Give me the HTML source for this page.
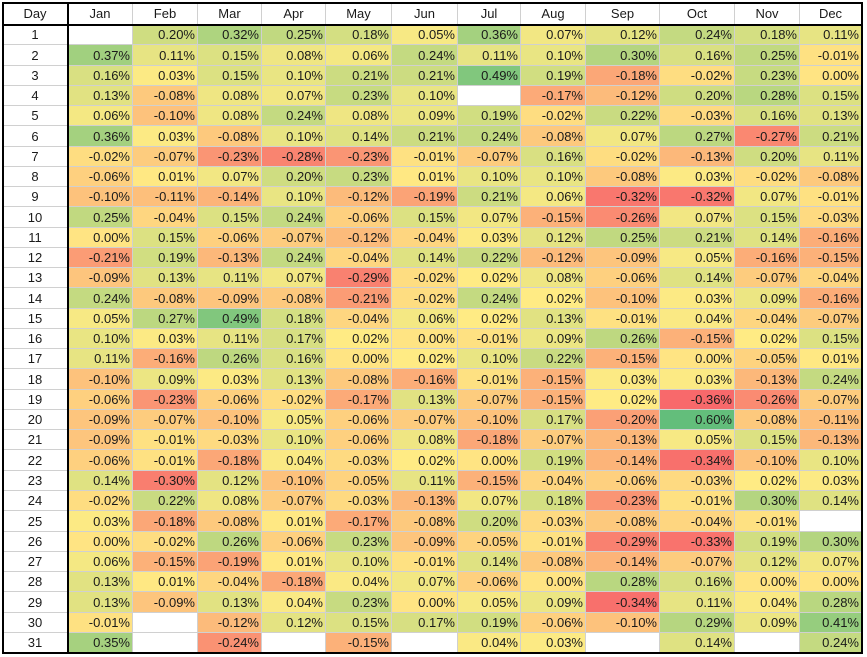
<!DOCTYPE html>
<html><head><meta charset="utf-8">
<style>
html,body{margin:0;padding:0;background:#fff;width:867px;height:657px;overflow:hidden;}
#wrap{position:absolute;left:0;top:0;width:867px;height:657px;font-family:"Liberation Sans",Arial,sans-serif;font-size:13px;color:#1a1a1a;}
.c{position:absolute;box-sizing:border-box;border-right:1px solid #d0d0d0;border-bottom:1px solid #d0d0d0;line-height:19px;white-space:nowrap;overflow:hidden;}
.r{text-align:right;padding-right:2px;}
.ctr{text-align:center;}
.b{position:absolute;background:#000;}
</style></head><body>
<div id="wrap"></div>
<script>
const months=["Jan","Feb","Mar","Apr","May","Jun","Jul","Aug","Sep","Oct","Nov","Dec"];
const days=[1,2,3,4,5,6,7,8,9,10,11,12,13,14,15,16,17,18,19,20,21,22,23,24,25,26,27,28,29,30,31];
const values=[
[null,0.20,0.32,0.25,0.18,0.05,0.36,0.07,0.12,0.24,0.18,0.11],
[0.37,0.11,0.15,0.08,0.06,0.24,0.11,0.10,0.30,0.16,0.25,-0.01],
[0.16,0.03,0.15,0.10,0.21,0.21,0.49,0.19,-0.18,-0.02,0.23,0.00],
[0.13,-0.08,0.08,0.07,0.23,0.10,null,-0.17,-0.12,0.20,0.28,0.15],
[0.06,-0.10,0.08,0.24,0.08,0.09,0.19,-0.02,0.22,-0.03,0.16,0.13],
[0.36,0.03,-0.08,0.10,0.14,0.21,0.24,-0.08,0.07,0.27,-0.27,0.21],
[-0.02,-0.07,-0.23,-0.28,-0.23,-0.01,-0.07,0.16,-0.02,-0.13,0.20,0.11],
[-0.06,0.01,0.07,0.20,0.23,0.01,0.10,0.10,-0.08,0.03,-0.02,-0.08],
[-0.10,-0.11,-0.14,0.10,-0.12,-0.19,0.21,0.06,-0.32,-0.32,0.07,-0.01],
[0.25,-0.04,0.15,0.24,-0.06,0.15,0.07,-0.15,-0.26,0.07,0.15,-0.03],
[0.00,0.15,-0.06,-0.07,-0.12,-0.04,0.03,0.12,0.25,0.21,0.14,-0.16],
[-0.21,0.19,-0.13,0.24,-0.04,0.14,0.22,-0.12,-0.09,0.05,-0.16,-0.15],
[-0.09,0.13,0.11,0.07,-0.29,-0.02,0.02,0.08,-0.06,0.14,-0.07,-0.04],
[0.24,-0.08,-0.09,-0.08,-0.21,-0.02,0.24,0.02,-0.10,0.03,0.09,-0.16],
[0.05,0.27,0.49,0.18,-0.04,0.06,0.02,0.13,-0.01,0.04,-0.04,-0.07],
[0.10,0.03,0.11,0.17,0.02,0.00,-0.01,0.09,0.26,-0.15,0.02,0.15],
[0.11,-0.16,0.26,0.16,0.00,0.02,0.10,0.22,-0.15,0.00,-0.05,0.01],
[-0.10,0.09,0.03,0.13,-0.08,-0.16,-0.01,-0.15,0.03,0.03,-0.13,0.24],
[-0.06,-0.23,-0.06,-0.02,-0.17,0.13,-0.07,-0.15,0.02,-0.36,-0.26,-0.07],
[-0.09,-0.07,-0.10,0.05,-0.06,-0.07,-0.10,0.17,-0.20,0.60,-0.08,-0.11],
[-0.09,-0.01,-0.03,0.10,-0.06,0.08,-0.18,-0.07,-0.13,0.05,0.15,-0.13],
[-0.06,-0.01,-0.18,0.04,-0.03,0.02,0.00,0.19,-0.14,-0.34,-0.10,0.10],
[0.14,-0.30,0.12,-0.10,-0.05,0.11,-0.15,-0.04,-0.06,-0.03,0.02,0.03],
[-0.02,0.22,0.08,-0.07,-0.03,-0.13,0.07,0.18,-0.23,-0.01,0.30,0.14],
[0.03,-0.18,-0.08,0.01,-0.17,-0.08,0.20,-0.03,-0.08,-0.04,-0.01,null],
[0.00,-0.02,0.26,-0.06,0.23,-0.09,-0.05,-0.01,-0.29,-0.33,0.19,0.30],
[0.06,-0.15,-0.19,0.01,0.10,-0.01,0.14,-0.08,-0.14,-0.07,0.12,0.07],
[0.13,0.01,-0.04,-0.18,0.04,0.07,-0.06,0.00,0.28,0.16,0.00,0.00],
[0.13,-0.09,0.13,0.04,0.23,0.00,0.05,0.09,-0.34,0.11,0.04,0.28],
[-0.01,null,-0.12,0.12,0.15,0.17,0.19,-0.06,-0.10,0.29,0.09,0.41],
[0.35,null,-0.24,null,-0.15,null,0.04,0.03,null,0.14,null,0.24]
];
const colEdges=[3,68,133,198,262,326,392,458,521,586,660,735,800,862];
const top0=3, headH=22, rowH=20.26;
const wrap=document.getElementById('wrap');
const flat=values.flat().filter(v=>v!==null);
const vmin=Math.min(...flat), vmax=Math.max(...flat);
const sorted=flat.slice().sort((a,b)=>a-b);
const vmid=sorted[Math.floor(sorted.length/2)];
function lerp(a,b,t){return a.map((x,i)=>Math.round(x+(b[i]-x)*t));}
function color(v){
  const R=[248,105,107],Y=[255,235,132],G=[99,190,123];
  let c;
  if(v<=vmid) c=lerp(R,Y,(v-vmin)/(vmid-vmin||1));
  else c=lerp(Y,G,(v-vmid)/(vmax-vmid||1));
  return `rgb(${c[0]},${c[1]},${c[2]})`;
}
function cell(x0,x1,y0,y1,txt,cls,bg){
  const d=document.createElement('div');
  d.className='c '+cls;
  d.style.left=x0+'px';d.style.top=y0+'px';
  d.style.width=(x1-x0)+'px';d.style.height=(y1-y0)+'px';
  d.style.lineHeight=(y1-y0)+'px';
  if(bg)d.style.background=bg;
  d.textContent=txt;
  wrap.appendChild(d);
  return d;
}
// header
let h=cell(colEdges[0],colEdges[1],top0,top0+headH,'Day','ctr');


months.forEach((m,j)=>{
  const d=cell(colEdges[j+1],colEdges[j+2],top0,top0+headH,m,'ctr');
  
  
});
days.forEach((dy,i)=>{
  const y0=Math.round(top0+headH+i*rowH), y1=Math.round(top0+headH+(i+1)*rowH);
  const dc=cell(colEdges[0],colEdges[1],y0,y1,String(dy),'ctr');
  
  
  months.forEach((m,j)=>{
    const v=values[i][j];
    const txt=v===null?'':v.toFixed(2)+'%';
    const c=cell(colEdges[j+1],colEdges[j+2],y0,y1,txt,'r',v===null?'#fff':color(v));
    
    
  });
});
// thick borders
const bottom=Math.round(top0+headH+days.length*rowH);
function bar(x,y,w,hh,name){
  const b=document.createElement('div');b.className='b';
  b.style.left=x+'px';b.style.top=y+'px';b.style.width=w+'px';b.style.height=hh+'px';
  
  
  wrap.appendChild(b);
}
bar(colEdges[0]-1,top0-1,colEdges[13]-colEdges[0]+2,2,'table-border-top');
bar(colEdges[0]-1,bottom-1,colEdges[13]-colEdges[0]+2,2,'table-border-bottom');
bar(colEdges[0]-1,top0-1,2,bottom-top0+1,'table-border-left');
bar(colEdges[13]-1,top0-1,2,bottom-top0+1,'table-border-right');
bar(colEdges[0],top0+headH-1,colEdges[13]-colEdges[0],2,'header-divider');
bar(colEdges[1]-1,top0,2,bottom-top0,'day-column-divider');
</script>
</body></html>
